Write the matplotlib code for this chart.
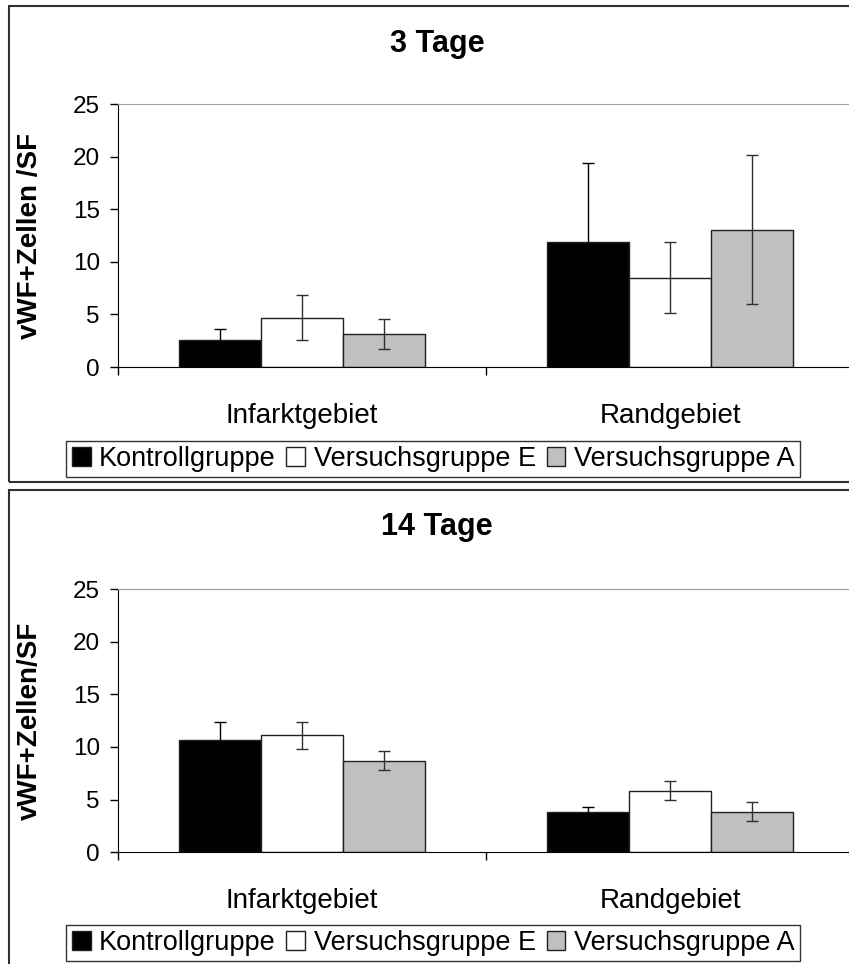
import matplotlib
matplotlib.use('Agg')
import matplotlib.pyplot as plt
import matplotlib.patches as patches
import numpy as np

plt.rcParams['font.family'] = ['Liberation Sans', 'DejaVu Sans']

categories = ['Infarktgebiet', 'Randgebiet']
groups = ['Kontrollgruppe', 'Versuchsgruppe E', 'Versuchsgruppe A']
colors = ['black', 'white', '#c0c0c0']
err_colors = ['black', '#303030', '#303030']

# 3 Tage
mean_3 = [[2.6, 11.9], [4.7, 8.5], [3.15, 13.05]]
err_3 = [[1.0, 7.5], [2.1, 3.35], [1.43, 7.08]]
# 14 Tage
mean_14 = [[10.7, 3.8], [11.1, 5.85], [8.7, 3.87]]
err_14 = [[1.68, 0.47], [1.25, 0.89], [0.9, 0.86]]

titles = ['3 Tage', '14 Tage']
ylabels = ['vWF+Zellen /SF', 'vWF+Zellen/SF']

W, H = 849, 964
fig = plt.figure(figsize=(W / 100, H / 100), dpi=100)

# panel layout in pixels: (zero line y, top line y, title y, legend center y, frame top, frame bottom)
panels = [(367, 104, 44, 459, 5.7, 481.7),
          (852.3, 589, 527, 943, 490.3, 975)]

bw = 0.2228
x = np.arange(len(categories))
for p in range(2):
    y0, y25, ty, legy, ftop, fbot = panels[p]
    # frame around each chart
    fig.patches.append(patches.Rectangle((8.5 / W, 1 - fbot / H), 1.1, (fbot - ftop) / H,
                                         transform=fig.transFigure, fill=False,
                                         edgecolor='#303030', lw=1.5, zorder=0))
    ax = fig.add_axes([118 / W, 1 - y0 / H, (854 - 118) / W, (y0 - y25) / H])
    means = mean_3 if p == 0 else mean_14
    errs = err_3 if p == 0 else err_14
    handles = []
    for g in range(3):
        b = ax.bar(x + (g - 1) * bw, means[g], bw, color=colors[g], edgecolor='#202020',
                   lw=1.0, label=groups[g], zorder=2)
        ax.errorbar(x + (g - 1) * bw, means[g], yerr=errs[g], fmt='none', ecolor=err_colors[g],
                    elinewidth=1.0, capsize=4, capthick=1.0, zorder=3)
        handles.append(b)
    ax.set_xlim(-0.5, 1.5)
    ax.set_ylim(0, 25)
    ax.set_yticks([0, 5, 10, 15, 20, 25])
    ax.tick_params(axis='y', direction='out', length=6, width=1, labelsize=17.5, pad=7)
    ax.set_xticks([-0.5, 0.5, 1.5])
    ax.set_xticklabels([])
    ax.tick_params(axis='x', which='major', direction='out', length=6, width=1)
    ax.set_xticks(x, minor=True)
    ax.set_xticklabels(categories, minor=True)
    ax.tick_params(axis='x', which='minor', length=0, labelsize=20, pad=26)
    ax.spines['left'].set_color('black')
    ax.spines['bottom'].set_color('black')
    ax.spines['top'].set_color('#a0a0a0')
    ax.spines['right'].set_color('#a0a0a0')
    ax.set_ylabel(ylabels[p], fontsize=20, fontweight='bold')
    ax.yaxis.set_label_coords(-(118 - 43) / (854 - 118), 0.5)
    fig.text(437 / W, 1 - ty / H, titles[p], ha='center', va='center', fontsize=22,
             fontweight='bold')
    leg = fig.legend(handles, groups, loc='center', ncol=3,
                     bbox_to_anchor=((65 + 801) / 2 / W, 1 - legy / H),
                     fontsize=19.5, frameon=True, fancybox=False, shadow=False,
                     handlelength=0.7, handleheight=0.7, handletextpad=0.3,
                     columnspacing=0.4, borderpad=0.2, borderaxespad=0)
    leg.get_frame().set_edgecolor('black')
    leg.get_frame().set_linewidth(1.0)

plt.savefig('out.png', dpi=100)
